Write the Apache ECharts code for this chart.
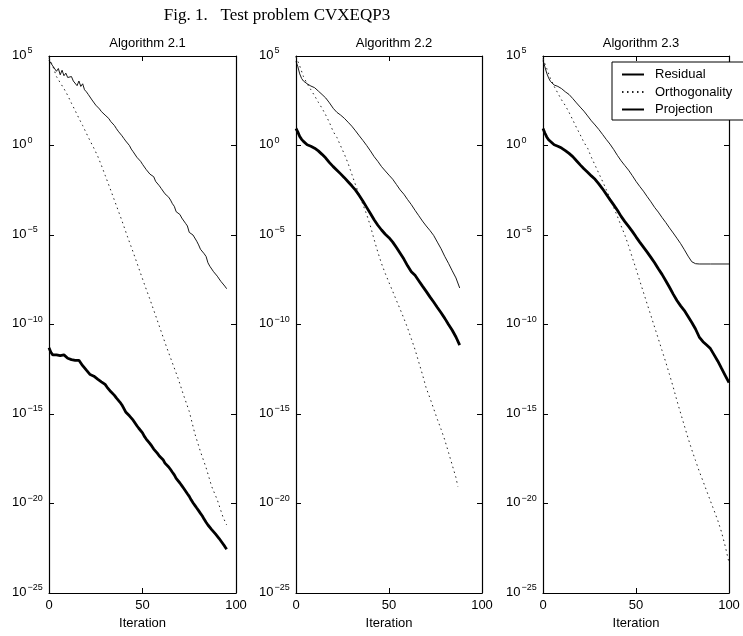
<!DOCTYPE html>
<html>
<head>
<meta charset="utf-8">
<script src="https://cdn.jsdelivr.net/npm/echarts@6/dist/echarts.min.js"></script>
<style>
html,body{margin:0;padding:0;background:#fff;}
#chart{width:743px;height:636px;}
</style>
</head>
<body>
<div id="chart"></div>
<script>
// ---------- DATA ----------
const figTitle = 'Fig. 1.   Test problem CVXEQP3';
const panelTitles = ['Algorithm 2.1', 'Algorithm 2.2', 'Algorithm 2.3'];
const seriesNames = ['Residual', 'Orthogonality', 'Projection'];
const xTicks = [0, 50, 100];
const yTicks = [1e5, 1, 1e-5, 1e-10, 1e-15, 1e-20, 1e-25];

// Panel 1 (Algorithm 2.1)
const iter1 = [0,1,2,3,4,5,6,7,8,9,10,11,12,13,14,15,16,17,18,19,20,21,22,23,24,25,26,27,28,29,30,31,32,33,34,35,36,37,38,39,40,41,42,43,44,45,46,47,48,49,50,51,52,53,54,55,56,57,58,59,60,61,62,63,64,65,66,67,68,69,70,71,72,73,74,75,76,77,78,79,80,81,82,83,84,85,86,87,88,89,90,91,92,93,94,95];
const residual1 = [5.6e4,4.0e4,2.8e4,2.2e4,1.4e4,2.0e4,8.9e3,1.6e4,7.9e3,1.1e4,6.3e3,5.0e3,7.1e3,4.0e3,3.5e3,2.2e3,4.0e3,2.0e3,2.8e3,1.3e3,1.0e3,7.1e2,6.3e2,3.5e2,4.5e2,1.8e2,2.2e2,1.1e2,79,89,50,40,32,22,18,13,8.9,6.3,5.0,3.5,2.5,1.8,1.4,1.0,0.63,0.45,0.35,0.22,0.18,0.13,8.9e-2,7.1e-2,4.5e-2,3.5e-2,2.5e-2,2.0e-2,1.8e-2,1.0e-2,1.1e-2,5.6e-3,4.0e-3,3.5e-3,2.0e-3,1.6e-3,1.3e-3,8.9e-4,5.6e-4,4.0e-4,2.0e-4,1.6e-4,1.4e-4,8.9e-5,7.1e-5,4.5e-5,3.2e-5,1.4e-5,1.3e-5,1.0e-5,7.9e-6,4.5e-6,2.8e-6,1.6e-6,1.4e-6,8.9e-7,6.3e-7,2.8e-7,1.8e-7,1.4e-7,8.9e-8,7.9e-8,5.0e-8,3.5e-8,2.5e-8,2.0e-8,1.4e-8,1.0e-8];
const projection1 = [5.0e-12,2.8e-12,2.0e-12,1.8e-12,2.0e-12,1.6e-12,1.8e-12,1.4e-12,2.0e-12,1.6e-12,1.3e-12,1.4e-12,1.1e-12,1.3e-12,1.0e-12,8.9e-13,1.0e-12,7.1e-13,5.0e-13,4.0e-13,2.8e-13,3.2e-13,1.6e-13,2.0e-13,1.3e-13,1.4e-13,8.9e-14,7.9e-14,6.3e-14,5.0e-14,4.5e-14,3.2e-14,2.8e-14,1.8e-14,2.2e-14,1.1e-14,7.9e-15,6.3e-15,4.5e-15,3.2e-15,2.5e-15,1.3e-15,1.4e-15,7.9e-16,6.3e-16,4.5e-16,4.0e-16,2.2e-16,1.6e-16,1.3e-16,8.9e-17,5.6e-17,4.0e-17,3.2e-17,2.2e-17,1.6e-17,1.1e-17,1.0e-17,6.3e-18,4.5e-18,3.5e-18,2.8e-18,1.8e-18,1.8e-18,1.1e-18,7.9e-19,5.6e-19,4.0e-19,2.5e-19,2.0e-19,1.4e-19,1.0e-19,7.1e-20,5.0e-20,3.5e-20,2.5e-20,1.6e-20,1.1e-20,7.9e-21,5.6e-21,4.0e-21,2.8e-21,2.0e-21,1.3e-21,8.9e-22,6.3e-22,5.0e-22,3.5e-22,2.8e-22,2.0e-22,1.6e-22,1.1e-22,8.9e-23,5.6e-23,4.0e-23,2.8e-23];
const iterOrtho1 = [0,2,4,6,8,10,12,14,16,18,20,22,24,26,28,30,33,36,39,42,45,48,51,54,57,60,63,66,69,72,75,78,81,84,87,90,93,95];
const orthogonality1 = [7.9e4,2.8e4,7.1e3,3.2e3,1.5e3,6.3e2,2.3e2,89,33,13,4.8,1.8,7.1e-1,2.6e-1,7.9e-2,2.2e-2,3.2e-3,4.5e-4,6.3e-5,7.9e-6,1.1e-6,1.4e-7,1.8e-8,2.5e-9,3.2e-10,4.0e-11,5.0e-12,7.1e-13,1.0e-13,1.1e-14,1.4e-15,7.9e-17,7.9e-18,1.0e-18,8.9e-20,1.6e-20,1.8e-21,6.3e-22];

// Panel 2 (Algorithm 2.2)
const iter2 = [0,1,2,3,4,6,8,10,12,14,16,18,20,22,24,26,28,30,32,34,36,38,40,42,44,46,48,50,52,54,56,58,60,62,64,66,68,70,72,74,76,78,80,82,84,86,88];
const residual2 = [5.0e4,2.5e4,1.0e4,5.6e3,4.0e3,2.8e3,2.1e3,1.7e3,1.1e3,7.1e2,4.5e2,2.4e2,1.2e2,71,50,33,20,12,6.6,3.5,1.9,1.0,5.0e-1,2.4e-1,1.3e-1,6.6e-2,3.8e-2,2.2e-2,1.3e-2,6.6e-3,3.3e-3,1.9e-3,9.5e-4,5.0e-4,2.4e-4,1.2e-4,6.0e-5,3.2e-5,1.8e-5,9.5e-6,4.0e-6,1.7e-6,6.3e-7,2.6e-7,1.0e-7,4.0e-8,1.1e-8];
const projection2 = [8.9,5.6,3.2,2.2,1.7,1.1,9.1e-1,7.1e-1,5.0e-1,3.2e-1,2.0e-1,1.1e-1,6.6e-2,4.2e-2,2.6e-2,1.6e-2,9.5e-3,5.6e-3,3.2e-3,1.6e-3,7.6e-4,3.5e-4,1.6e-4,7.1e-5,3.5e-5,1.9e-5,1.1e-5,7.1e-6,4.0e-6,2.0e-6,9.5e-7,4.5e-7,1.9e-7,8.9e-8,5.6e-8,2.8e-8,1.4e-8,7.1e-9,3.5e-9,1.8e-9,8.9e-10,4.5e-10,2.2e-10,1.0e-10,4.8e-11,2.0e-11,7.1e-12];
const iterOrtho2 = [0,2,4,6,8,10,12,14,16,18,20,22,24,26,28,30,32,34,36,38,40,42,44,46,48,50,52,54,56,58,60,62,64,66,68,70,72,74,76,78,80,82,84,86,87];
const orthogonality2 = [8.9e4,2.8e4,7.1e3,2.8e3,1.3e3,6.0e2,2.6e2,1.2e2,50,19,6.0,2.8,9.5e-1,3.3e-1,1.0e-1,2.5e-2,6.3e-3,1.8e-3,5.0e-4,1.4e-4,3.2e-5,5.6e-6,1.1e-6,2.5e-7,7.1e-8,2.2e-8,7.1e-9,2.2e-9,7.1e-10,2.2e-10,6.3e-11,1.6e-11,4.0e-12,7.9e-13,1.6e-13,2.8e-14,7.9e-15,2.0e-15,5.0e-16,1.4e-16,3.5e-17,7.1e-18,1.4e-18,2.8e-19,8.9e-20];

// Panel 3 (Algorithm 2.3)
const iterRes3 = [0,1,2,3,4,6,8,10,12,14,16,18,20,22,24,26,28,30,32,34,36,38,40,42,44,46,48,50,52,54,56,58,60,62,64,66,68,70,72,74,76,78,80,82,84,90,100];
const residual3 = [5.6e4,2.5e4,1.1e4,6.0e3,3.8e3,2.4e3,2.0e3,1.5e3,1.0e3,7.1e2,4.2e2,2.4e2,1.4e2,83,45,24,14,7.9,4.2,2.2,1.2,6.0e-1,2.8e-1,1.4e-1,7.6e-2,4.2e-2,2.1e-2,1.0e-2,5.2e-3,2.8e-3,1.4e-3,7.2e-4,3.5e-4,1.9e-4,9.5e-5,5.0e-5,2.5e-5,1.3e-5,6.6e-6,3.3e-6,1.5e-6,6.6e-7,3.2e-7,2.5e-7,2.4e-7,2.4e-7,2.4e-7];
const iterProj3 = [0,1,2,3,4,6,8,10,12,14,16,18,20,22,24,26,28,30,32,34,36,38,40,42,44,46,48,50,52,54,56,58,60,62,64,66,68,70,72,74,76,78,80,82,84,86,88,90,92,94,96,98,100];
const projection3 = [8.9,5.0,3.0,2.1,1.7,1.1,9.1e-1,7.2e-1,5.2e-1,3.6e-1,2.4e-1,1.4e-1,8.3e-2,5.0e-2,3.2e-2,2.0e-2,1.3e-2,7.1e-3,3.8e-3,1.9e-3,9.5e-4,4.8e-4,2.4e-4,1.1e-4,5.6e-5,3.0e-5,1.6e-5,7.9e-6,4.0e-6,2.1e-6,1.1e-6,5.6e-7,2.8e-7,1.3e-7,6.3e-8,2.8e-8,1.2e-8,5.0e-9,2.2e-9,1.1e-9,6.0e-10,2.8e-10,1.3e-10,5.6e-11,2.0e-11,1.1e-11,7.1e-12,4.5e-12,2.0e-12,8.9e-13,3.5e-13,1.4e-13,5.6e-14];
const iterOrtho3 = [0,2,4,6,8,10,12,14,16,18,20,22,24,26,28,30,32,34,36,38,40,42,44,46,48,50,52,54,56,58,60,62,64,66,68,70,72,74,76,78,80,82,84,86,88,90,92,94,96,98,100];
const orthogonality3 = [7.1e4,2.0e4,5.6e3,2.0e3,8.3e2,3.5e2,1.7e2,71,27,10,4.0,1.5,7.1e-1,2.2e-1,7.9e-2,2.8e-2,1.0e-2,3.5e-3,1.1e-3,3.5e-4,1.1e-4,3.2e-5,1.0e-5,2.5e-6,5.6e-7,1.3e-7,2.8e-8,6.3e-9,1.4e-9,3.2e-10,7.1e-11,1.6e-11,3.5e-12,7.9e-13,1.6e-13,3.2e-14,5.6e-15,1.1e-15,2.2e-16,4.5e-17,1.0e-17,2.5e-18,6.3e-19,1.8e-19,5.0e-20,1.4e-20,4.0e-21,1.1e-21,2.5e-22,4.0e-23,5.0e-24];

// ---------- BUILD ----------
function pairs(xs, ys) { return xs.map((x, i) => [x, ys[i]]); }

const panels = [
  { res: pairs(iter1, residual1), orth: pairs(iterOrtho1, orthogonality1), proj: pairs(iter1, projection1) },
  { res: pairs(iter2, residual2), orth: pairs(iterOrtho2, orthogonality2), proj: pairs(iter2, projection2) },
  { res: pairs(iterRes3, residual3), orth: pairs(iterOrtho3, orthogonality3), proj: pairs(iterProj3, projection3) }
];

const gridBoxes = [
  { left: 49, top: 56, width: 187, height: 537 },
  { left: 296, top: 56, width: 186, height: 537 },
  { left: 543, top: 56, width: 186, height: 537 }
];

const SANS = 'Liberation Sans, Arial, Helvetica, sans-serif';
const black = '#000';

function expLabel(v) {
  if (!(v > 0) || !isFinite(v)) return '';
  const e = Math.round(Math.log10(v));
  if (!isFinite(e)) return '';
  const s = e < 0 ? '\u2212' + (-e) : String(e);
  return '{b|10}{s|' + s + '}';
}

const xAxes = [], yAxes = [], series = [], titles = [], grids = [];
titles.push({
  text: figTitle, left: 272, top: 2, textAlign: 'center',
  textStyle: { fontFamily: 'Liberation Serif, DejaVu Serif, serif', fontSize: 17, fontWeight: 'normal', color: black }
});

const yMin = yTicks[yTicks.length - 1], yMax = yTicks[0];

gridBoxes.forEach((g, i) => {
  grids.push({ left: g.left, top: g.top, width: g.width, height: g.height, containLabel: false, outerBoundsMode: 'none' });
  titles.push({
    text: panelTitles[i], left: g.left + g.width / 2, top: 32, textAlign: 'center',
    textStyle: { fontFamily: SANS, fontSize: 13, fontWeight: 'normal', color: black }
  });
  xAxes.push({
    gridIndex: i, type: 'value', position: 'bottom', min: xTicks[0], max: xTicks[xTicks.length - 1], interval: 50,
    axisLine: { show: true, onZero: false, lineStyle: { color: black, width: 1.2 } },
    axisTick: { inside: true, length: 5, lineStyle: { color: black, width: 1 } }, splitLine: { show: false },
    axisLabel: { color: black, fontSize: 13, fontFamily: SANS, margin: 6 },
    name: 'Iteration', nameLocation: 'middle', nameGap: 22,
    nameTextStyle: { color: black, fontSize: 13, fontFamily: SANS }
  });
  yAxes.push({
    gridIndex: i, type: 'log', logBase: 10, position: 'left', min: yMin, max: yMax,
    axisLine: { show: true, onZero: false, lineStyle: { color: black, width: 1.2 } },
    axisTick: { inside: true, length: 5, lineStyle: { color: black, width: 1 }, customValues: yTicks },
    splitLine: { show: false }, minorTick: { show: false },
    axisLabel: {
      customValues: yTicks,
      align: 'left', margin: 37, formatter: expLabel, color: black,
      showMinLabel: true, showMaxLabel: true,
      rich: {
        b: { fontSize: 13, fontFamily: SANS, color: black, lineHeight: 15, verticalAlign: 'bottom', padding: [4, 0, 0, 0] },
        s: { fontSize: 9, fontFamily: SANS, color: black, lineHeight: 10, verticalAlign: 'top', padding: [0, 0, 0, 1] }
      },
      padding: [0, 0, 4, 0]
    }
  });
});
gridBoxes.forEach((g, i) => {
  xAxes.push({
    gridIndex: i, type: 'value', position: 'top', min: 0, max: 100, interval: 50,
    axisLine: { show: true, onZero: false, lineStyle: { color: black, width: 1.2 } },
    axisTick: { inside: true, length: 5, lineStyle: { color: black } },
    axisLabel: { show: false }, splitLine: { show: false }
  });
  yAxes.push({
    gridIndex: i, type: 'log', logBase: 10, position: 'right', min: yMin, max: yMax,
    axisLine: { show: true, onZero: false, lineStyle: { color: black, width: 1.2 } },
    axisTick: { inside: true, length: 5, lineStyle: { color: black }, customValues: yTicks },
    axisLabel: { show: false }, splitLine: { show: false }, minorTick: { show: false }
  });
});

panels.forEach((p, i) => {
  series.push({
    name: seriesNames[0], type: 'line', xAxisIndex: i, yAxisIndex: i, data: p.res,
    symbol: 'none', lineStyle: { color: black, width: 0.9 }, itemStyle: { color: black }, z: 3
  });
  series.push({
    name: seriesNames[1], type: 'line', xAxisIndex: i, yAxisIndex: i, data: p.orth,
    symbol: 'none', lineStyle: { color: '#222', width: 1, type: [1.5, 3.5] }, itemStyle: { color: black }, z: 2
  });
  series.push({
    name: seriesNames[2], type: 'line', xAxisIndex: i, yAxisIndex: i, data: p.proj,
    symbol: 'none', lineStyle: { color: black, width: 2.8 }, itemStyle: { color: black }, z: 4
  });
});

const option = {
  animation: false,
  backgroundColor: '#fff',
  title: titles,
  grid: grids,
  xAxis: xAxes,
  yAxis: yAxes,
  legend: {
    data: seriesNames, orient: 'vertical', left: 612, top: 62,
    itemWidth: 22, itemHeight: 14, itemGap: 4.5,
    padding: [6, 30, 4, 9],
    borderColor: black, borderWidth: 1, borderRadius: 0, backgroundColor: '#fff',
    itemStyle: { opacity: 0 },
    textStyle: { fontSize: 13, fontFamily: SANS, color: black, padding: [0, 0, 0, 6] },
    selectedMode: false
  },
  series: series
};

const chart = echarts.init(document.getElementById('chart'), null, { renderer: 'canvas' });
chart.setOption(option);
</script>
</body>
</html>
